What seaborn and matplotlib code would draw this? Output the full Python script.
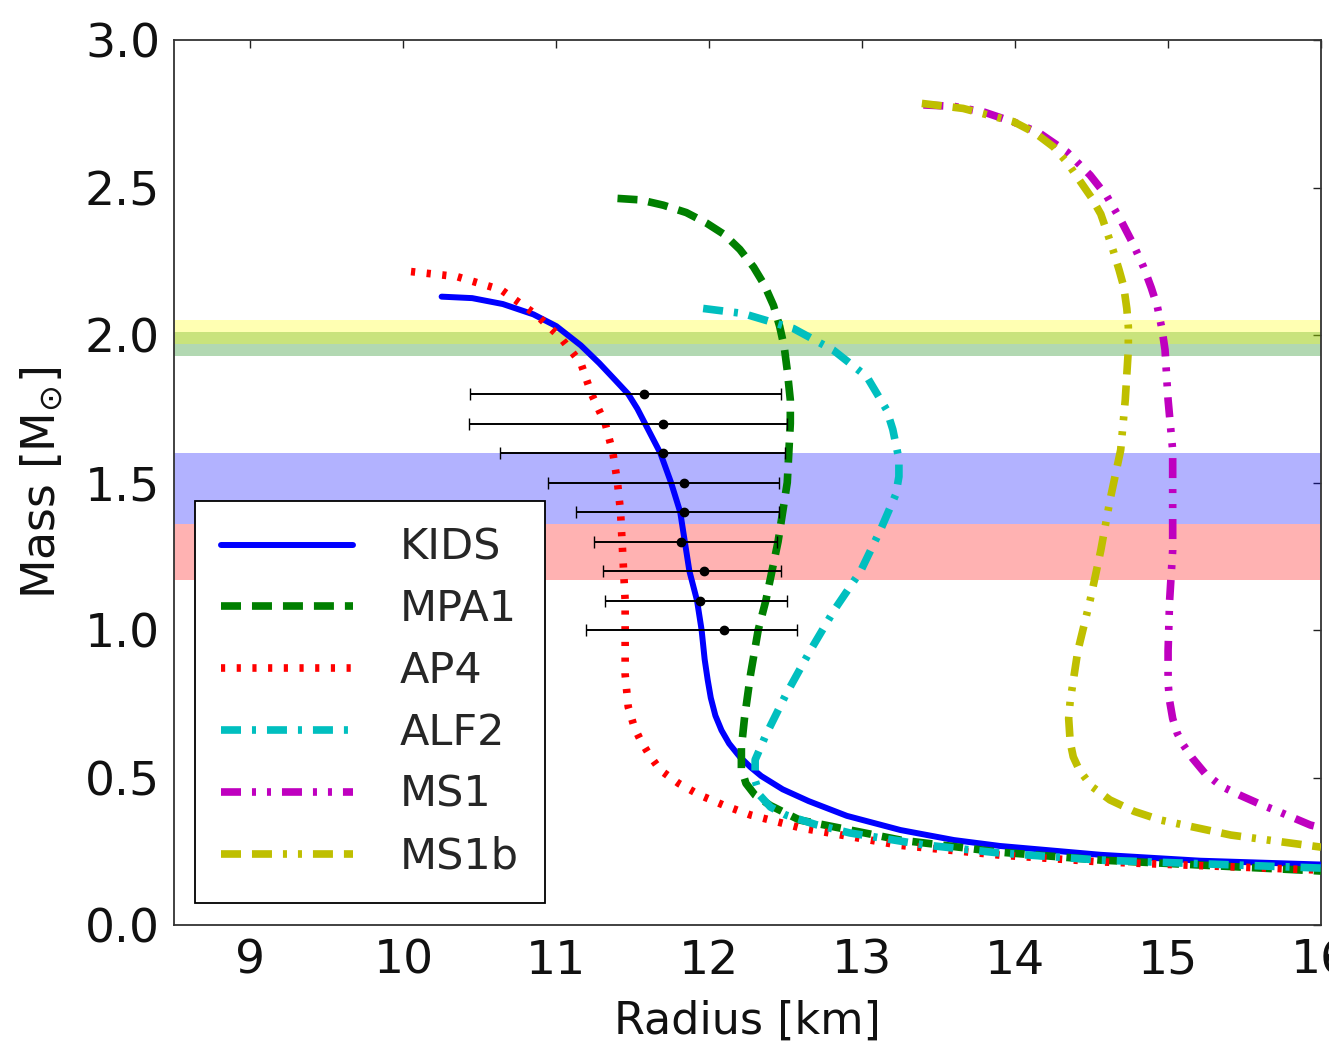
import matplotlib
matplotlib.use("Agg")
import matplotlib.pyplot as plt
import numpy as np
import pandas as pd
import seaborn as sns

# Mass-radius relations (radius in km, mass in solar masses)
kids_r = [10.25, 10.45, 10.65, 10.85, 11.00, 11.16, 11.28, 11.38, 11.47, 11.53,
          11.58, 11.63, 11.68, 11.75, 11.81, 11.84, 11.87, 11.92, 11.95, 11.97,
          11.99, 12.01, 12.04, 12.08, 12.13, 12.20, 12.27, 12.34, 12.48, 12.65,
          12.90, 13.25, 13.60, 13.90, 14.56, 15.21, 16.0]
kids_m = [2.13, 2.125, 2.105, 2.07, 2.03, 1.965, 1.905, 1.85, 1.80, 1.75,
          1.70, 1.65, 1.60, 1.50, 1.40, 1.30, 1.20, 1.10, 1.00, 0.90,
          0.83, 0.77, 0.71, 0.66, 0.615, 0.57, 0.535, 0.505, 0.46, 0.42,
          0.37, 0.322, 0.288, 0.268, 0.238, 0.218, 0.205]

mpa1_r = [11.40, 11.55, 11.70, 11.85, 11.98, 12.10, 12.20, 12.29, 12.36, 12.42,
          12.46, 12.49, 12.51, 12.53, 12.53, 12.52, 12.51, 12.48, 12.45, 12.41,
          12.37, 12.32, 12.27, 12.23, 12.21, 12.21, 12.24, 12.30, 12.40, 12.59,
          13.25, 13.90, 14.56, 16.0]
mpa1_m = [2.463, 2.458, 2.44, 2.415, 2.38, 2.34, 2.29, 2.23, 2.17, 2.10,
          2.03, 1.96, 1.88, 1.78, 1.70, 1.60, 1.50, 1.40, 1.30, 1.20,
          1.10, 1.00, 0.85, 0.70, 0.60, 0.53, 0.48, 0.44, 0.405, 0.356,
          0.288, 0.247, 0.22, 0.183]

ap4_r = [10.05, 10.35, 10.64, 10.87, 11.03, 11.16, 11.23, 11.32, 11.37, 11.40,
         11.42, 11.43, 11.44, 11.45, 11.45, 11.45, 11.47, 11.51, 11.55, 11.61,
         11.68, 11.80, 11.94, 12.10, 12.27, 12.60, 13.25, 13.90, 14.56, 16.0]
ap4_m = [2.215, 2.198, 2.153, 2.068, 1.99, 1.905, 1.80, 1.70, 1.60, 1.50,
         1.40, 1.30, 1.20, 1.10, 1.00, 0.85, 0.74, 0.67, 0.627, 0.575,
         0.525, 0.48, 0.44, 0.405, 0.373, 0.329, 0.27, 0.237, 0.214, 0.186]

alf2_r = [11.96, 12.22, 12.55, 12.81, 13.03, 13.16, 13.20, 13.24, 13.24, 13.22,
          13.12, 12.99, 12.82, 12.66, 12.50, 12.37, 12.30, 12.30, 12.33, 12.40,
          12.50, 12.70, 12.92, 13.40, 13.90, 14.56, 16.0]
alf2_m = [2.09, 2.073, 2.022, 1.949, 1.859, 1.746, 1.68, 1.58, 1.52, 1.46,
          1.34, 1.20, 1.07, 0.93, 0.78, 0.644, 0.56, 0.49, 0.44, 0.40,
          0.373, 0.34, 0.312, 0.272, 0.244, 0.22, 0.193]

ms1_r = [13.40, 13.60, 13.80, 14.00, 14.16, 14.34, 14.49, 14.60, 14.69, 14.77,
         14.84, 14.89, 14.93, 14.96, 14.98, 15.00, 15.03, 15.03, 15.03, 15.01,
         15.00, 15.00, 15.01, 15.03, 15.06, 15.10, 15.16, 15.24, 15.35, 15.47,
         15.60, 15.73, 15.93, 16.0]
ms1_m = [2.78, 2.775, 2.755, 2.72, 2.684, 2.62, 2.542, 2.47, 2.39, 2.31,
         2.23, 2.16, 2.096, 2.02, 1.95, 1.78, 1.61, 1.44, 1.27, 1.10,
         0.93, 0.82, 0.76, 0.70, 0.65, 0.61, 0.565, 0.515, 0.47, 0.44,
         0.41, 0.383, 0.339, 0.33]

ms1b_r = [13.39, 13.66, 13.99, 14.13, 14.25, 14.34, 14.42, 14.50, 14.56, 14.60,
          14.64, 14.68, 14.71, 14.73, 14.74, 14.74, 14.72, 14.69, 14.62, 14.56,
          14.49, 14.41, 14.36, 14.35, 14.36, 14.38, 14.42, 14.50, 14.62, 14.78,
          14.95, 15.41, 16.0]
ms1b_m = [2.785, 2.768, 2.723, 2.685, 2.638, 2.585, 2.525, 2.465, 2.41, 2.35,
          2.288, 2.22, 2.164, 2.09, 2.028, 1.95, 1.78, 1.61, 1.44, 1.27,
          1.10, 0.93, 0.76, 0.70, 0.62, 0.57, 0.525, 0.47, 0.424, 0.385,
          0.356, 0.305, 0.264]

# Radius constraints with asymmetric uncertainties
err_mass = [1.8, 1.7, 1.6, 1.5, 1.4, 1.3, 1.2, 1.1, 1.0]
err_r = [11.575, 11.70, 11.70, 11.837, 11.837, 11.817, 11.963, 11.941, 12.094]
err_lo = [10.433, 10.427, 10.634, 10.943, 11.131, 11.248, 11.303, 11.316, 11.194]
err_hi = [12.469, 12.51, 12.497, 12.453, 12.453, 12.442, 12.469, 12.508, 12.573]

# Mass bands: (low, high, colour)
bands = [(1.93, 2.01, "green"), (1.97, 2.05, "yellow"),
         (1.36, 1.60, "blue"), (1.17, 1.36, "red")]

x_ticks = [9, 10, 11, 12, 13, 14, 15, 16]
y_ticks = [0.0, 0.5, 1.0, 1.5, 2.0, 2.5, 3.0]

sns.set_style("white")
plt.rcParams["font.family"] = ["DejaVu Sans"]
plt.rcParams["lines.scale_dashes"] = False
plt.rcParams["mathtext.fontset"] = "dejavusans"

fig = plt.figure(figsize=(13.29, 10.47), dpi=100)
ax = fig.add_axes([0.1309, 0.1165, 0.8631, 0.8453])

for lo, hi, c in bands:
    ax.axhspan(lo, hi, color=c, alpha=0.3, lw=0, zorder=1)

dash = 14.4
gap = 7.9
dot = 2.9
curves = [
    ("KIDS", kids_r, kids_m, "#0000ff", "-", 4.3),
    ("MPA1", mpa1_r, mpa1_m, "#007f00", (0, (dash, gap)), 5.5),
    ("AP4", ap4_r, ap4_m, "#ff0000", (0, (3.0, 8.3)), 5.5),
    ("ALF2", alf2_r, alf2_m, "#00bfbf", (0, (dash, gap, dot, gap)), 5.5),
    ("MS1", ms1_r, ms1_m, "#bf00bf", (0, (dash, gap, dot, gap, dot, gap)), 5.5),
    ("MS1b", ms1b_r, ms1b_m, "#bfbf00", (0, (dash, gap, dash, gap, dot, gap, dot, gap)), 5.5),
]

for name, r, m, col, ls, lw in curves:
    df = pd.DataFrame({"Radius": r, "Mass": m})
    sns.lineplot(data=df, x="Radius", y="Mass", sort=False, estimator=None,
                 color=col, linestyle=ls, lw=lw, label=name, ax=ax, zorder=3)

xerr = [np.array(err_r) - np.array(err_lo), np.array(err_hi) - np.array(err_r)]
ax.errorbar(err_r, err_mass, xerr=xerr, fmt="o", color="black", ms=6,
            elinewidth=1.4, capsize=4, capthick=1.0, ecolor="black", zorder=4)

ax.set_xlim(8.5, 16)
ax.set_ylim(0, 3)
ax.set_xticks(x_ticks)
ax.set_yticks(y_ticks)
ax.set_yticklabels([f"{v:.1f}" for v in y_ticks])
ax.tick_params(axis="both", which="major", direction="in", length=6, width=1,
               top=True, right=True, labelsize=34, pad=10, colors="#222222",
               labelcolor="#111111")
for sp in ax.spines.values():
    sp.set_visible(True)
    sp.set_color("#333333")
    sp.set_linewidth(1.3)

ax.set_xlabel("Radius [km]", fontsize=32, labelpad=11, color="#111111")
ax.set_ylabel(r"Mass [M$_{\odot}$]", fontsize=33, labelpad=14, color="#111111")

leg = ax.legend(loc="lower left", fontsize=31, handlelength=3.05,
                handletextpad=1.1, labelspacing=0.46, borderpad=0.6,
                borderaxespad=0.5, frameon=True, fancybox=False,
                framealpha=1.0, edgecolor="black")
leg.get_frame().set_linewidth(1.3)
leg.set_zorder(5)

fig.savefig("out.png", dpi=100)
